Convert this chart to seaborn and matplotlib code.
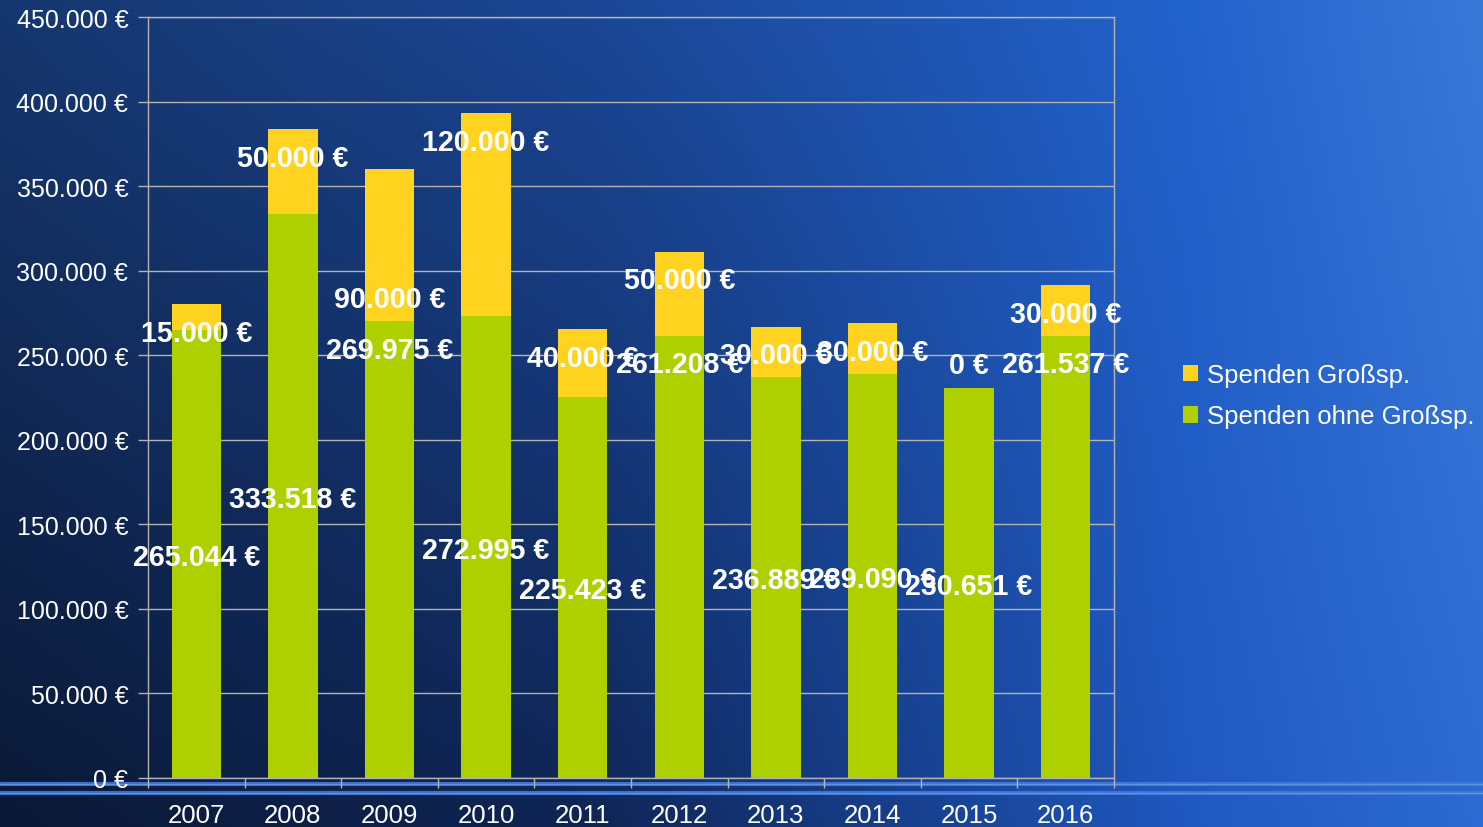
import numpy as np
import pandas as pd
import matplotlib
matplotlib.use("Agg")
import matplotlib.pyplot as plt
import seaborn as sns
from matplotlib.colors import to_rgb
from matplotlib.patches import Patch

# ---------------- data ----------------
years = ["2007", "2008", "2009", "2010", "2011", "2012", "2013", "2014", "2015", "2016"]
spenden_ohne = [265044, 333518, 269975, 272995, 225423, 261208, 236889, 239090, 230651, 261537]
spenden_gross = [15000, 50000, 90000, 120000, 40000, 50000, 30000, 30000, 0, 30000]
series_names = ["Spenden Großsp.", "Spenden ohne Großsp."]
y_ticks = [0, 50000, 100000, 150000, 200000, 250000, 300000, 350000, 400000, 450000]

# label placement (layout, in data units) as positioned in the original chart
ohne_label_y = [132450, 166750, 254850, 136590, 112940, 246570, 118850, 119400, 115300, 246570]
gross_label_y = [264900, 368380, 285000, 377840, 250120, 296240, 251890, 253670, 245980, 276140]

# ---------------- style ----------------
GREEN = "#AECF00"
YELLOW = "#FFD320"
GRID = "#b3b3b3"

sns.set_theme(style="white")
plt.rcParams["font.family"] = ["Liberation Sans", "DejaVu Sans"]

def euro(v):
    return f"{v:,.0f} €".replace(",", ".")

df = pd.DataFrame({"Jahr": years, "ohne": spenden_ohne, "gross": spenden_gross})
df["total"] = df["ohne"] + df["gross"]

fig = plt.figure(figsize=(14.83, 8.28), dpi=100)

# ---------------- background gradient ----------------
bg = fig.add_axes([0, 0, 1, 1], zorder=0)
H, W = 414, 742
xs = np.linspace(0, 1, W)
ctrl_x = [0.0, 0.4, 0.8, 1.0]
top_cols = [to_rgb(c) for c in ["#16376f", "#1b4796", "#2262cc", "#3a78d8"]]
bot_cols = [to_rgb(c) for c in ["#0a1835", "#0f2555", "#1f58c0", "#2c6bd3"]]
top = np.stack([np.interp(xs, ctrl_x, [c[k] for c in top_cols]) for k in range(3)], axis=-1)
bot = np.stack([np.interp(xs, ctrl_x, [c[k] for c in bot_cols]) for k in range(3)], axis=-1)
t = np.linspace(0, 1, H)[:, None, None]
img = top[None, :, :] * (1 - t) + bot[None, :, :] * t
bg.imshow(img, extent=[0, 1, 0, 1], aspect="auto", origin="upper")
bg.set_xlim(0, 1)
bg.set_ylim(0, 1)
for yy in (1 - 784.5 / 828, 1 - 793.5 / 828):
    bg.axhline(yy, color="#3f78d8", lw=3.0, alpha=0.9)
    bg.axhline(yy, color="#6a9ae6", lw=1.0, alpha=0.8)
bg.axis("off")

# ---------------- chart ----------------
ax = fig.add_axes([148 / 1483, 1 - 779 / 828, (1114 - 148) / 1483, (779 - 18) / 828], zorder=1)
ax.patch.set_alpha(0)

sns.barplot(data=df, x="Jahr", y="total", color=YELLOW, saturation=1, width=0.51,
            errorbar=None, edgecolor="none", linewidth=0, ax=ax, zorder=3)
sns.barplot(data=df, x="Jahr", y="ohne", color=GREEN, saturation=1, width=0.51,
            errorbar=None, edgecolor="none", linewidth=0, ax=ax, zorder=3)

ax.set_xlim(-0.5, len(years) - 0.5)
ax.set_ylim(0, 450000)
ax.set_yticks(y_ticks)
ax.set_yticklabels([euro(v) for v in y_ticks])
ax.set_xlabel("")
ax.set_ylabel("")

ax.grid(axis="y", color=GRID, lw=1, zorder=0)
ax.grid(axis="x", visible=False)
ax.set_axisbelow(True)
for s in ax.spines.values():
    s.set_visible(True)
    s.set_color(GRID)
    s.set_linewidth(1)

ax.tick_params(axis="y", which="major", left=True, length=7.2, width=1, color=GRID,
               pad=7, labelsize=18, labelcolor="white")
ax.tick_params(axis="x", which="major", bottom=False, length=0, pad=18,
               labelsize=18.5, labelcolor="white")
ax.set_xticks(np.arange(-0.5, len(years), 1.0), minor=True)
ax.tick_params(axis="x", which="minor", bottom=True, length=7.2, width=1, color=GRID)

for i in range(len(years)):
    ax.annotate(euro(spenden_ohne[i]), (i, ohne_label_y[i]), xytext=(0, -2),
                textcoords="offset points", ha="center", va="center",
                color="white", fontsize=20.6, fontweight="bold", zorder=5)
    ax.annotate(euro(spenden_gross[i]), (i, gross_label_y[i]), xytext=(0, -2),
                textcoords="offset points", ha="center", va="center",
                color="white", fontsize=20.6, fontweight="bold", zorder=5)

handles = [Patch(facecolor=YELLOW, edgecolor="none"), Patch(facecolor=GREEN, edgecolor="none")]
leg = fig.legend(handles, series_names, loc="upper left",
                 bbox_to_anchor=(1183 / 1483, 1 - 364 / 828), frameon=False,
                 fontsize=18.5, labelcolor="white", handlelength=0.6, handleheight=0.6,
                 handletextpad=0.35, labelspacing=0.68, borderpad=0, borderaxespad=0)

fig.savefig("out.png", dpi=100)
